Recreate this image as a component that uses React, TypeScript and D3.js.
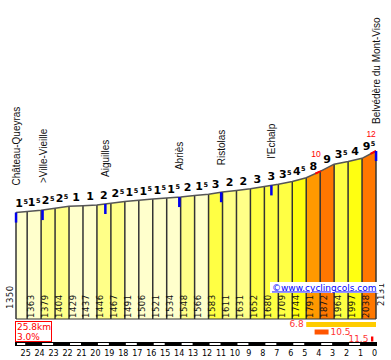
import { useEffect, useRef } from 'react';
import * as d3 from 'd3';

// profile data (km to summit, elevation in m)
const kmPoints = [25.8, 25, 24, 23, 22, 21, 20, 19, 18, 17, 16, 15, 14, 13, 12, 11, 10, 9, 8, 7, 6, 5, 4, 3, 2, 1, 0];
const elevations = [1350, 1363, 1379, 1404, 1429, 1437, 1446, 1467, 1491, 1506, 1521, 1534, 1548, 1566, 1583, 1611, 1631, 1652, 1680, 1709, 1744, 1791, 1872, 1964, 1997, 2038, 2131];
const gradients = [1.5, 1.5, 2.5, 2.5, 1, 1, 2, 2.5, 1.5, 1.5, 1.5, 1.5, 2, 1.5, 3, 2, 2, 3, 3, 3.5, 4.5, 8, 9, 3.5, 4, 9.5];
const kmTicks = [25, 24, 23, 22, 21, 20, 19, 18, 17, 16, 15, 14, 13, 12, 11, 10, 9, 8, 7, 6, 5, 4, 3, 2, 1, 0];

// places along the climb
const places = ['Château-Queyras', '>Ville-Vieille', 'Aiguilles', 'Abriès', 'Ristolas', "l'Echalp", 'Belvédère du Mont-Viso'];
const placeKm = [25.8, 23.9, 19.4, 14.1, 11.1, 7.5, 0];

// steepest short stretches (red)
const steepValues = [10, 12];
const steepFrom = [4.35, 0.4];
const steepTo = [3.95, 0];

// steepest 5km / 1km / short bit
const bestValues = ['6.8', '10.5', '11.5'];
const bestFrom = [5, 4.4, 0.36];
const bestTo = [0, 3.4, 0.19];
const bestColors = ['#FFCC00', '#FF5500', '#FF0000'];

const totalLength = '25.8km';
const avgGrade = '3.0%';

export default function App() {
    const svgRef = useRef<SVGSVGElement>(null);

    useEffect(() => {
        if (!svgRef.current) return;
        const svg = d3.select(svgRef.current);
        svg.selectAll('*').remove();

        const x = d3.scaleLinear().domain([25.8, 0]).range([16, 376]);
        const y = d3.scaleLinear().domain([0, 2131]).range([319, 151]);
        const color = d3.scaleThreshold<number, string>()
            .domain([2, 3, 4, 5, 9])
            .range(['#FFFFCC', '#FFFF88', '#FFFF44', '#FFFF11', '#FF9900', '#FF7700']);
        const elevAt = d3.scaleLinear().domain(kmPoints).range(elevations);

        const segs = gradients.map((g, i) => ({
            g, k0: kmPoints[i], k1: kmPoints[i + 1], e0: elevations[i], e1: elevations[i + 1]
        }));

        // 1. bars
        svg.append('g').selectAll('path').data(segs).join('path')
            .attr('d', d => `M${x(d.k0)},${y(0)}V${y(d.e0)}L${x(d.k1)},${y(d.e1)}V${y(0)}Z`)
            .attr('fill', d => color(d.g));

        // separators
        svg.append('g').selectAll('line').data(kmPoints).join('line')
            .attr('x1', d => x(d)).attr('x2', d => x(d))
            .attr('y1', (d, i) => y(elevations[i])).attr('y2', y(0))
            .attr('stroke', '#333').attr('stroke-width', 1.5);

        svg.append('line')
            .attr('x1', x(25.8)).attr('x2', x(0)).attr('y1', y(0)).attr('y2', y(0))
            .attr('stroke', '#333').attr('stroke-width', 1);

        // 2. profile line
        const line = d3.line<number>().x((d, i) => x(kmPoints[i])).y(d => y(d));
        svg.append('path').datum(elevations)
            .attr('d', line).attr('fill', 'none')
            .attr('stroke', '#555').attr('stroke-width', 1.5);

        // steep bits in red
        steepFrom.forEach((k0, i) => {
            const ks = [k0, ...kmPoints.filter(k => k < k0 && k > steepTo[i]), steepTo[i]];
            svg.append('path').datum(ks)
                .attr('d', d3.line<number>().x(k => x(k)).y(k => y(elevAt(k))))
                .attr('fill', 'none').attr('stroke', '#FF0000').attr('stroke-width', 2);
            const km = (k0 + steepTo[i]) / 2 + 0.15;
            svg.append('text')
                .attr('x', x(km)).attr('y', y(elevAt(km)) - 16.5)
                .attr('text-anchor', 'middle')
                .attr('font-family', 'Liberation Sans').attr('font-size', 8.5)
                .attr('fill', '#FF0000')
                .text(steepValues[i]);
        });

        // 3. places
        placeKm.forEach((k, i) => {
            const py = y(elevAt(k));
            svg.append('rect')
                .attr('x', x(k) - 1.2).attr('y', py).attr('width', 2.5).attr('height', 10)
                .attr('fill', '#0000EE');
            svg.append('text')
                .attr('transform', `translate(${x(k) + 4},${py - 27}) rotate(-90)`)
                .attr('font-family', 'Liberation Sans').attr('font-size', 10)
                .attr('fill', '#111')
                .text(places[i]);
        });

        // 4. gradient labels
        const gl = svg.append('g').selectAll('text').data(segs).join('text')
            .attr('x', d => x((d.k0 + d.k1) / 2))
            .attr('y', d => y((d.e0 + d.e1) / 2) - 5)
            .attr('text-anchor', 'middle')
            .attr('font-family', 'DejaVu Sans').attr('font-weight', 'bold').attr('font-size', 11)
            .attr('fill', '#000');
        gl.append('tspan').text(d => Math.floor(d.g));
        gl.filter(d => d.g % 1 !== 0).append('tspan')
            .attr('font-size', 6.5).attr('dx', 0.5).attr('dy', -3.3).text('5');

        // 5. elevation labels
        elevations.forEach((e, i) => {
            let tx = x(kmPoints[i]) + 6.5, ty = 318;
            if (i === 0) { tx = 13; ty = 309; }
            if (i === elevations.length - 1) { tx = 384; ty = 306; }
            svg.append('text')
                .attr('transform', `translate(${tx},${ty}) rotate(-90)`)
                .attr('font-family', 'DejaVu Sans').attr('font-size', 8.5)
                .attr('letter-spacing', 0.5)
                .attr('fill', '#111')
                .text(e);
        });

        // 6. watermark
        svg.append('rect').attr('x', 270).attr('y', 282).attr('width', 109).attr('height', 11).attr('fill', '#fff');
        svg.append('text')
            .attr('x', 272).attr('y', 290.5)
            .attr('font-family', 'DejaVu Sans').attr('font-size', 9)
            .attr('fill', '#0000FF').attr('text-decoration', 'underline')
            .text('©www.cyclingcols.com');

        // 7. steepest stretches legend
        const by = [322, 329.5, 336.5];
        bestValues.forEach((v, i) => {
            svg.append('rect')
                .attr('x', x(bestFrom[i])).attr('y', by[i])
                .attr('width', x(bestTo[i]) - x(bestFrom[i])).attr('height', 5)
                .attr('fill', bestColors[i]);
            const after = i === 1;
            svg.append('text')
                .attr('x', after ? x(bestTo[i]) + 2 : x(bestFrom[i]) - 2.5)
                .attr('y', by[i] + 5.3)
                .attr('text-anchor', after ? 'start' : 'end')
                .attr('font-family', 'DejaVu Sans').attr('font-size', 9)
                .attr('fill', '#FF3333')
                .text(v);
        });

        // 8. length / average box
        svg.append('rect')
            .attr('x', 15.5).attr('y', 321.5).attr('width', 36).attr('height', 20)
            .attr('fill', '#fff').attr('stroke', '#FF0000').attr('stroke-width', 1);
        svg.append('text').attr('x', 17).attr('y', 330)
            .attr('font-family', 'DejaVu Sans').attr('font-size', 9).attr('fill', '#FF0000')
            .text(totalLength);
        svg.append('text').attr('x', 17).attr('y', 339.5)
            .attr('font-family', 'DejaVu Sans').attr('font-size', 9).attr('fill', '#FF0000')
            .text(avgGrade);

        // 9. km axis
        svg.append('rect').attr('x', 15).attr('y', 342).attr('width', 362).attr('height', 4).attr('fill', '#000');
        const whites = segs.filter(d => d.k0 === 25.8 || d.k0 % 2 === 0);
        svg.append('g').selectAll('rect').data(whites).join('rect')
            .attr('x', d => x(d.k0) + 1).attr('y', 343)
            .attr('width', d => x(d.k1) - x(d.k0) - 3).attr('height', 2)
            .attr('fill', '#fff');
        svg.append('g').selectAll('text').data(kmTicks).join('text')
            .attr('x', d => x(d) - 1.5).attr('y', 356)
            .attr('text-anchor', 'middle')
            .attr('font-family', 'DejaVu Sans').attr('font-size', 8)
            .attr('fill', '#000')
            .text(d => d);
    }, []);

    return (
        <svg
            ref={svgRef}
            width={391}
            height={360}
            style={{ position: 'absolute', left: 0, top: 0, background: '#fff' }}
        />
    );
}
